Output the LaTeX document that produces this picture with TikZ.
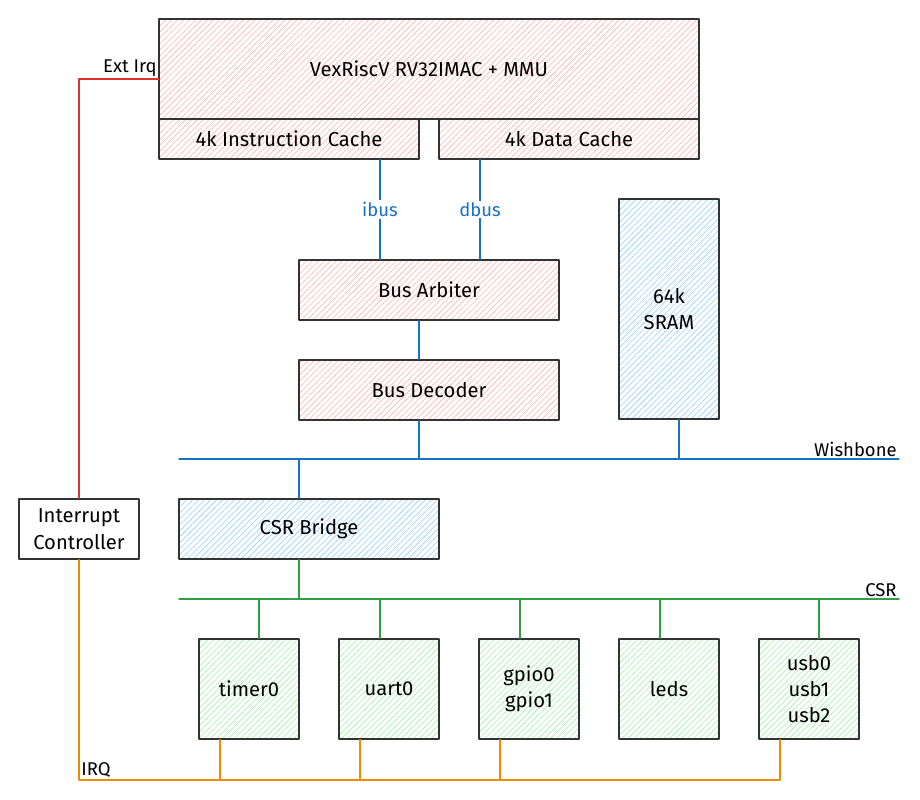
\documentclass[tikz,border=0pt]{standalone}
\usepackage{fontspec}
\setmainfont{Fira Sans}
\usetikzlibrary{patterns.meta}

\definecolor{hatchred}{HTML}{FFC0C0}
\definecolor{hatchblue}{HTML}{A5D8FF}
\definecolor{hatchgreen}{HTML}{B2F2BB}
\definecolor{busblue}{HTML}{1971C2}
\definecolor{busgreen}{HTML}{2F9E44}
\definecolor{irqorange}{HTML}{F08C00}
\definecolor{irqred}{HTML}{E03131}

\tikzset{
  blk/.style={draw=black!80, line width=0.8pt, inner sep=2pt, align=center, font=\fontsize{11.5}{15}\selectfont},
  sz/.style 2 args={minimum width=#1*0.02cm, minimum height=#2*0.02cm},
  hatch/.style={blk, pattern={Lines[angle=45, distance=2.4pt, line width=0.45pt]}, pattern color=#1},
  wb/.style={draw=busblue, line width=0.7pt},
  csr/.style={draw=busgreen, line width=0.7pt},
  irq/.style={draw=irqorange, line width=0.7pt},
  ext/.style={draw=irqred, line width=0.7pt},
  lbl/.style={font=\fontsize{10.5}{12}\selectfont, inner sep=1pt},
}

\begin{document}
\begin{tikzpicture}[x=0.02cm, y=-0.02cm, line cap=round, line join=round]
  \useasboundingbox (0,0) rectangle (920,800);
  \coordinate (ib) at (380,0);
  \coordinate (db) at (480,0);
  \coordinate (ad) at (419,0);
  \coordinate (sr) at (679,0);
  \coordinate (br) at (299,0);
  \coordinate (extirq) at (159,79);
  \coordinate (wbL) at (179,459);
  \coordinate (wbR) at (899,459);
  \coordinate (csrL) at (179,599);
  \coordinate (csrR) at (899,599);
  \coordinate (irqR) at (780,780);

  \node[hatch=hatchred, sz={540}{100}] (cpu) at (429,69) {VexRiscV RV32IMAC + MMU};
  \node[hatch=hatchred, sz={260}{40}] (icache) at (289,139) {4k Instruction Cache};
  \node[hatch=hatchred, sz={260}{40}] (dcache) at (569,139) {4k Data Cache};
  \node[hatch=hatchred, sz={260}{60}] (arb) at (429,290) {Bus Arbiter};
  \node[hatch=hatchred, sz={260}{60}] (dec) at (429,390) {Bus Decoder};
  \node[hatch=hatchblue, sz={100}{220}] (sram) at (669,309) {64k\\SRAM};
  \node[hatch=hatchblue, sz={260}{60}] (bridge) at (309,529) {CSR Bridge};
  \node[blk, fill=white, sz={120}{60}] (ic) at (79,529) {Interrupt\\Controller};
  \foreach \n/\x/\t in {timer0/249/timer0, uart0/389/uart0, gpio/529/{gpio0\\gpio1}, leds/669/leds, usb/809/{usb0\\usb1\\usb2}}
    \node[hatch=hatchgreen, sz={100}{100}] (\n) at (\x,689) {\t};

  % wishbone side
  \draw[wb] (icache.south -| ib) -- node[lbl, fill=white, text=busblue] (ibuslbl) {ibus} (arb.north -| ib);
  \draw[wb] (dcache.south -| db) -- node[lbl, fill=white, text=busblue] (dbuslbl) {dbus} (arb.north -| db);
  \draw[wb] (arb.south -| ad) -- (dec.north -| ad);
  \draw[wb] (wbL) -- (wbR) node[lbl, above left] (wblbl) {Wishbone};
  \draw[wb] (dec.south -| ad) -- (wbL -| ad);
  \draw[wb] (sram.south -| sr) -- (wbL -| sr);
  \draw[wb] (wbL -| br) -- (bridge.north -| br);

  % csr side
  \draw[csr] (bridge.south -| br) -- (csrL -| br);
  \draw[csr] (csrL) -- (csrR) node[lbl, above left] (csrlbl) {CSR};
  \foreach \n/\dx in {timer0/0.2cm, uart0/-0.18cm, gpio/-0.18cm, leds/-0.18cm, usb/0.2cm}
    \draw[csr] ([xshift=\dx]\n.north) -- ([xshift=\dx]\n.north |- csrL);

  % interrupts
  \draw[ext] (ic.north) |- (extirq) node[lbl, above left] (extlbl) {Ext Irq};
  \draw[irq] (ic.south) |- node[lbl, pos=0.5, above right] (irqlbl) {IRQ} (irqR);
  \foreach \n in {timer0, uart0, gpio, usb}
    \draw[irq] ([xshift=-0.58cm]\n.south) -- ([xshift=-0.58cm]\n.south |- irqR);
\end{tikzpicture}
\end{document}
